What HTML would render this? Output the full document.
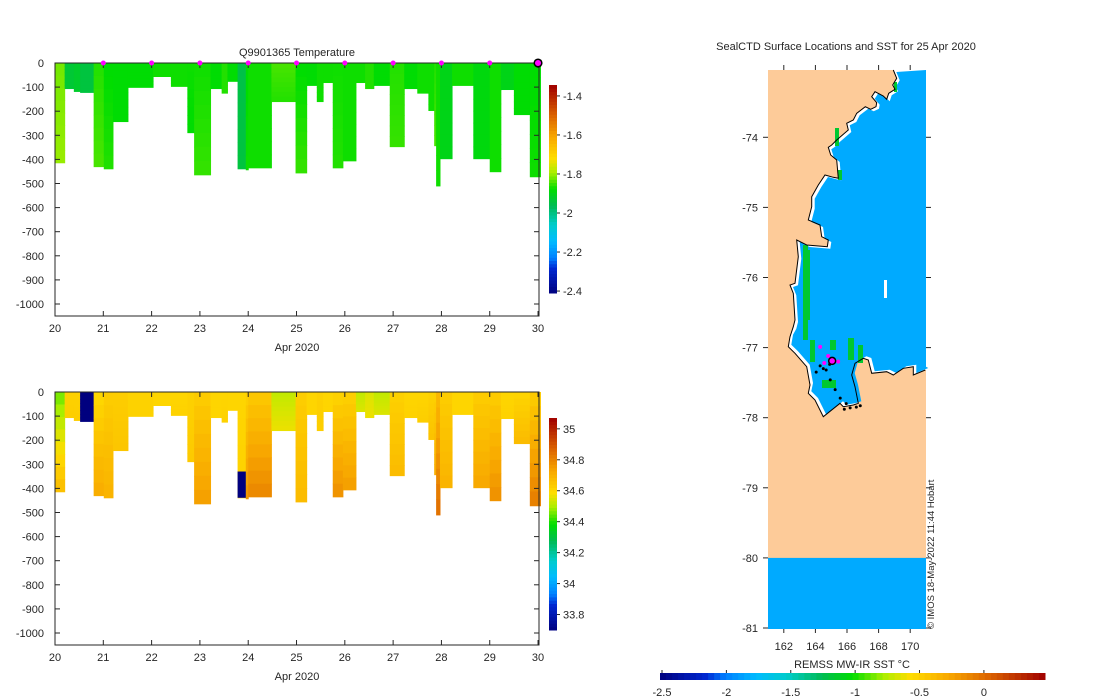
<!DOCTYPE html>
<html><head><meta charset="utf-8"><style>
body{margin:0;background:#fff;}
svg{display:block;font-family:"Liberation Sans","DejaVu Sans",sans-serif;}
text{fill:#262626;font-size:11px;}
</style></head><body>
<svg id="root" width="1100" height="700">
<g id="top"></g>
<g id="bot"></g>
<g id="map"></g>
</svg>
<script>
// ---- profile data ----
const starts=[20.00,20.20,20.39,20.52,20.80,21.01,21.20,21.51,22.03,22.40,22.74,22.88,23.22,23.45,23.57,23.78,23.95,24.00,24.48,24.98,25.21,25.42,25.55,25.75,25.96,26.23,26.42,26.60,26.93,27.23,27.50,27.73,27.85,27.89,27.97,28.22,28.66,29.00,29.23,29.50,29.83];
const endDay=30.05;
const depths=[414,106,118,122,430,439,243,101,56,97,289,464,106,125,76,439,443,435,160,456,93,160,81,435,406,81,106,93,347,106,125,197,343,510,397,93,397,451,110,214,472];
const tTop=[-1.82,-1.93,-1.92,-1.94,-1.86,-1.88,-1.88,-1.88,-1.87,-1.87,-1.87,-1.87,-1.88,-1.86,-1.88,-1.95,-1.88,-1.87,-1.84,-1.88,-1.88,-1.87,-1.87,-1.87,-1.87,-1.87,-1.86,-1.88,-1.86,-1.88,-1.87,-1.87,-1.86,-1.87,-1.90,-1.87,-1.89,-1.87,-1.90,-1.88,-1.88];
const tBot=[-1.80,-1.93,-1.92,-1.94,-1.84,-1.86,-1.88,-1.88,-1.87,-1.87,-1.88,-1.85,-1.88,-1.86,-1.88,-1.94,-1.87,-1.87,-1.86,-1.85,-1.88,-1.87,-1.87,-1.86,-1.87,-1.87,-1.86,-1.88,-1.85,-1.88,-1.87,-1.87,-1.84,-1.87,-1.90,-1.87,-1.89,-1.87,-1.90,-1.88,-1.87];
const sTop=[34.45,34.62,34.62,33.60,34.60,34.63,34.63,34.62,34.61,34.61,34.62,34.63,34.61,34.61,34.61,34.61,34.62,34.64,34.52,34.63,34.61,34.62,34.61,34.61,34.62,34.52,34.55,34.52,34.62,34.61,34.61,34.62,34.62,34.68,34.63,34.61,34.63,34.63,34.61,34.61,34.63];
const sBot=[34.68,34.63,34.63,33.60,34.72,34.70,34.65,34.62,34.61,34.62,34.64,34.75,34.61,34.62,34.61,34.62,34.77,34.80,34.57,34.68,34.61,34.63,34.61,34.78,34.75,34.55,34.57,34.55,34.68,34.62,34.63,34.66,34.72,34.85,34.70,34.61,34.73,34.78,34.62,34.68,34.82];
const anomT0=[23.78], anomT1=[23.95], anomZ0=[330], anomZ1=[439], anomS=[33.6];
const markerDays=[21,22,23,24,25,26,27,28,29];
const xTicks=[20,21,22,23,24,25,26,27,28,29,30];
const yTicks=[0,-100,-200,-300,-400,-500,-600,-700,-800,-900,-1000];
const tCbTicks=[-1.4,-1.6,-1.8,-2,-2.2,-2.4];
const sCbTicks=[35,34.8,34.6,34.4,34.2,34,33.8];
// ---- map data ----
const trackLon=[164.3,164.68,164.05,164.94,165.25,165.57,165.95,166.2,166.59,166.84,165.83,164.5,164.9];
const trackLat=[-77.26,-77.32,-77.35,-77.46,-77.6,-77.72,-77.8,-77.86,-77.85,-77.83,-77.88,-77.3,-77.24];
const posLon=[164.3,164.81,164.56,165.44];
const posLat=[-76.99,-77.12,-77.22,-77.2];
const lastLon=[165.06], lastLat=[-77.19];
const latTicks=[-74,-75,-76,-77,-78,-79,-80,-81];
const lonTicks=[162,164,166,168,170];
const sstTicks=[-2.5,-2,-1.5,-1,-0.5,0];

const NS='http://www.w3.org/2000/svg';
function mk(p,tag,at){const e=document.createElementNS(NS,tag);for(const k in at)e.setAttribute(k,at[k]);p.appendChild(e);return e;}
const stops=[[0,[0,0,127]],[0.12,[0,40,210]],[0.17,[0,128,255]],[0.25,[0,187,255]],[0.33,[0,204,204]],[0.42,[0,187,85]],[0.5,[0,221,0]],[0.58,[170,238,0]],[0.65,[255,221,0]],[0.75,[248,168,0]],[0.85,[221,102,0]],[1,[160,0,0]]];
function cmap(f){f=Math.max(0,Math.min(1,f));for(let i=1;i<stops.length;i++){if(f<=stops[i][0]){const a=stops[i-1],b=stops[i],t=(f-a[0])/(b[0]-a[0]);return 'rgb('+a[1].map((v,j)=>Math.round(v+(b[1][j]-v)*t)).join(',')+')';}}return 'rgb(160,0,0)';}

function panel(g,top,vTop,vBot,vmin,vmax,cbTop,cbBot,cbTicks,title,isT){
  const L=55,R=539,B=top+253;
  const x=d=>L+(d-20)/(30.02-20)*(R-L);
  const y=z=>top+(-z)/1000*241;
  const col=v=>cmap((v-vmin)/(vmax-vmin));
  for(let i=0;i<starts.length;i++){
    const x0=x(starts[i]),x1=x(i+1<starts.length?starts[i+1]:endDay);
    const n=8;
    for(let k=0;k<n;k++){
      const z0=depths[i]*k/n,z1=depths[i]*(k+1)/n;
      const v=vTop[i]+(vBot[i]-vTop[i])*(k+0.5)/n;
      const r=mk(g,'rect',{x:x0,y:y(-z0),width:x1-x0+0.5,height:y(-z1)-y(-z0)+0.5,fill:col(v)});
      
      
    }
  }
  if(!isT){for(let i=0;i<anomT0.length;i++){const r=mk(g,'rect',{x:x(anomT0[i]),y:y(-anomZ0[i]),width:x(anomT1[i])-x(anomT0[i]),height:y(-anomZ1[i])-y(-anomZ0[i]),fill:col(anomS[i])});
    
    }}
  const fr=mk(g,'rect',{x:L,y:top,width:R-L,height:B-top,fill:'none',stroke:'#262626','stroke-width':1});
  
  yTicks.forEach(t=>{const yy=y(t);mk(g,'line',{x1:L,x2:L+5,y1:yy,y2:yy,stroke:'#262626'});mk(g,'line',{x1:R-5,x2:R,y1:yy,y2:yy,stroke:'#262626'});
    const tx=mk(g,'text',{x:L-11,y:yy+4,'text-anchor':'end'});tx.textContent=t;
    });
  xTicks.forEach(t=>{const xx=x(t);mk(g,'line',{x1:xx,x2:xx,y1:B,y2:B-5,stroke:'#262626'});mk(g,'line',{x1:xx,x2:xx,y1:top,y2:top+5,stroke:'#262626'});
    const tx=mk(g,'text',{x:xx,y:B+16,'text-anchor':'middle'});tx.textContent=t;
    });
  const xl=mk(g,'text',{x:297,y:B+35,'text-anchor':'middle'});xl.textContent='Apr 2020';
  
  if(title){const tt=mk(g,'text',{x:297,y:top-7,'text-anchor':'middle'});tt.textContent=title;
    
    markerDays.forEach(d=>{const c=mk(g,'circle',{cx:x(d),cy:top,r:2.5,fill:'#ff00ff'});
      });
    const c=mk(g,'circle',{cx:x(30),cy:top,r:3.8,fill:'#ff00ff',stroke:'#000','stroke-width':1.5});
    }
  const cb=mk(g,'g',{});
  const N=64,cx=549,cw=8;
  for(let k=0;k<N;k++){const y0=cbBot-(k+1)*(cbBot-cbTop)/N;mk(cb,'rect',{x:cx,y:y0,width:cw,height:(cbBot-cbTop)/N+0.5,fill:cmap((k+0.5)/N)});}
  const cy=v=>cbBot-(v-vmin)/(vmax-vmin)*(cbBot-cbTop);
  cbTicks.forEach(t=>{const yy=cy(t);mk(cb,'line',{x1:cx+cw,x2:cx+cw+3,y1:yy,y2:yy,stroke:'#262626'});
    const tx=mk(cb,'text',{x:cx+cw+6,y:yy+4});tx.textContent=t;
    });
}
panel(document.getElementById('top'),63,tTop,tBot,-2.41,-1.344,85,293,tCbTicks,'Q9901365  Temperature',true);
panel(document.getElementById('bot'),392,sTop,sBot,33.70,35.07,418,630,sCbTicks,null,false);

// ---- map ----
const mg=document.getElementById('map');
const ML=768,MR=926,MT=70,MB=629;
const lx=lon=>ML+(lon-161)/10*(MR-ML);
const ly=lat=>MT+(-73.04-lat)*70.1;
mk(mg,'rect',{x:ML,y:MT,width:MR-ML,height:MB-MT,fill:'#fdcb99'});
const coast=[[460,30],[470,55],[458,75],[465,88],[446,100],[440,118],[430,108],[405,95],[395,110],[410,128],[408,140],[392,148],[376,140],[350,160],[340,180],[320,190],[325,210],[290,240],[275,255],[265,262],[272,285],[290,300],[295,355],[280,352],[255,345],[235,375],[215,410],[215,440],[205,480],[240,495],[245,530],[265,540],[262,560],[200,555],[170,540],[175,590],[165,670],[150,675],[160,700],[165,780],[160,800],[150,830],[145,860],[165,880],[200,920],[210,975],[205,1000],[225,1020],[250,1070],[300,1030],[310,1040],[340,1035],[355,1030],[345,980],[335,945],[345,910],[370,895],[385,900],[395,940],[440,935],[460,945],[490,925],[520,920],[520,945],[556,930]];
const cp=coast.map(p=>[740+p[0]/3,60+p[1]/3]);
const poly=pts=>pts.map(p=>p[0].toFixed(1)+','+p[1].toFixed(1)).join(' ');
const oceanPts=cp.concat([[MR,60+930/3],[MR,MT]]);
mk(mg,'polygon',{points:poly(oceanPts),fill:'#ffffff'});
const inner=cp.map(p=>[p[0]+3,p[1]+(p[1]>330?-2:2)]).concat([[MR,60+920/3],[MR,MT]]);
mk(mg,'polygon',{points:poly(inner),fill:'#00aaff'});
// green coastal strips
[[803,245,5,95],[806,250,4,70],[810,340,5,22],[822,380,14,8],[830,340,6,10],[848,338,6,22],[858,345,5,18],[835,128,4,18],[838,170,4,10],[894,82,3,10]].forEach(r=>{const e=mk(mg,'rect',{x:r[0],y:r[1],width:r[2],height:r[3],fill:'#00c830'});});
mk(mg,'rect',{x:884,y:280,width:3,height:18,fill:'#fff'});
mk(mg,'polyline',{points:poly(cp),fill:'none',stroke:'#000','stroke-width':1});
mk(mg,'rect',{x:ML,y:ly(-80),width:MR-ML,height:MB-ly(-80),fill:'#00aaff'});
for(let i=0;i<trackLon.length;i++){const c=mk(mg,'circle',{cx:lx(trackLon[i]),cy:ly(trackLat[i]),r:1.5,fill:'#000'});
  }
for(let i=0;i<posLon.length;i++){const c=mk(mg,'circle',{cx:lx(posLon[i]),cy:ly(posLat[i]),r:2,fill:'#ff00ff'});
  }
for(let i=0;i<lastLon.length;i++){const c=mk(mg,'circle',{cx:lx(lastLon[i]),cy:ly(lastLat[i]),r:3.5,fill:'#ff00ff',stroke:'#000','stroke-width':1.5});
  }
latTicks.forEach(t=>{const yy=ly(t);mk(mg,'line',{x1:ML-5,x2:ML,y1:yy,y2:yy,stroke:'#262626'});mk(mg,'line',{x1:MR,x2:MR+5,y1:yy,y2:yy,stroke:'#262626'});
  const tx=mk(mg,'text',{x:ML-10,y:yy+4,'text-anchor':'end'});tx.textContent=t;
  });
lonTicks.forEach(t=>{const xx=lx(t);mk(mg,'line',{x1:xx,x2:xx,y1:MB,y2:MB+4,stroke:'#262626'});mk(mg,'line',{x1:xx,x2:xx,y1:MT-5,y2:MT,stroke:'#262626'});
  const tx=mk(mg,'text',{x:xx,y:MB+21,'text-anchor':'middle'});tx.textContent=t;
  });
let t1=mk(mg,'text',{x:846,y:50,'text-anchor':'middle'});t1.textContent='SealCTD Surface Locations and SST for 25 Apr 2020';

let t2=mk(mg,'text',{x:0,y:0,transform:'translate(934,629) rotate(-90)',style:'font-size:9.5px'});t2.textContent='© IMOS 18-May-2022 11:44 Hobart';

let t3=mk(mg,'text',{x:852,y:668,'text-anchor':'middle'});t3.textContent='REMSS MW-IR SST °C';

const sb=mk(mg,'g',{});
const SX0=660,SX1=1045,smin=-2.5,smax=0.49;
for(let k=0;k<64;k++){mk(sb,'rect',{x:SX0+k*(SX1-SX0)/64,y:673,width:(SX1-SX0)/64+0.5,height:7,fill:cmap((k+0.5)/64)});}
sstTicks.forEach(t=>{const xx=SX0+2+(t-smin)/(smax-smin)*(SX1-SX0);mk(sb,'line',{x1:xx,x2:xx,y1:670,y2:673,stroke:'#262626'});
  const tx=mk(sb,'text',{x:xx,y:696,'text-anchor':'middle'});tx.textContent=t;
  });
</script>
</body></html>
